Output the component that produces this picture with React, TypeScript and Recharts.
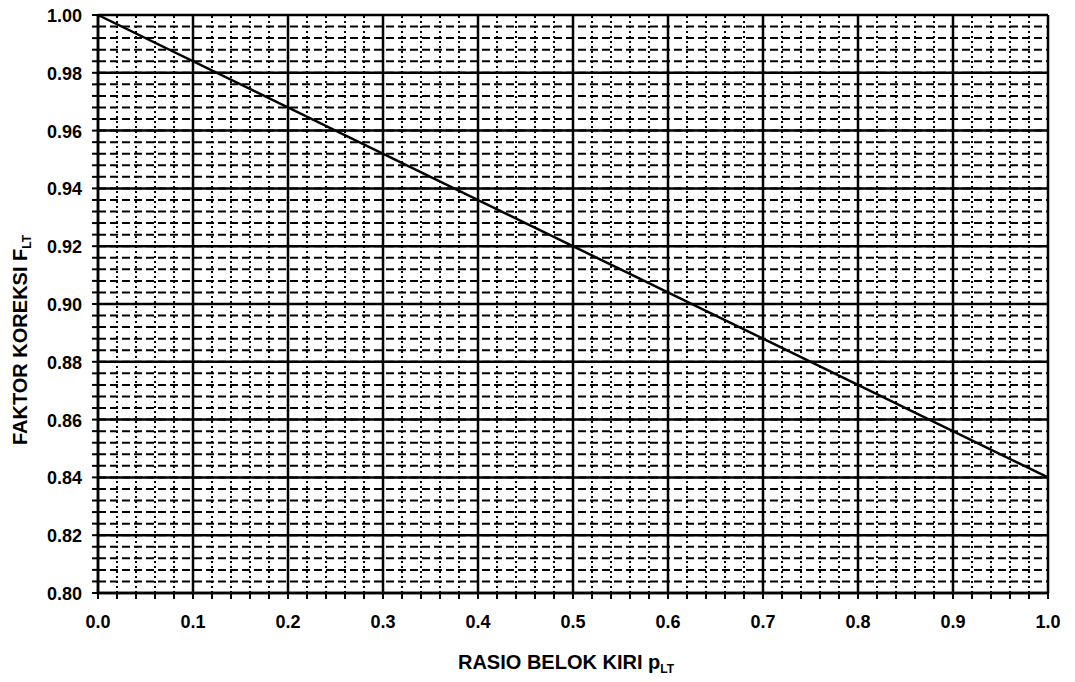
import {
  CartesianGrid,
  Label,
  Line,
  LineChart,
  ReferenceLine,
  XAxis,
  YAxis,
} from 'recharts'

document.body.style.margin = '0'

// correction line F_LT vs left-turn ratio p_LT
const ratio = [0.0, 1.0]
const factor = [1.0, 0.84]

const xMajor = [0, 0.1, 0.2, 0.3, 0.4, 0.5, 0.6, 0.7, 0.8, 0.9, 1.0]
const xLabels = ['0.0', '0.1', '0.2', '0.3', '0.4', '0.5', '0.6', '0.7', '0.8', '0.9', '1.0']
const yMajor = [0.8, 0.82, 0.84, 0.86, 0.88, 0.9, 0.92, 0.94, 0.96, 0.98, 1.0]
const yLabels = ['0.80', '0.82', '0.84', '0.86', '0.88', '0.90', '0.92', '0.94', '0.96', '0.98', '1.00']

// minor grid: every 0.02 on x, every 0.004 on y
const xMinor = Array.from({ length: 51 }, (_, i) => Math.round(i * 2) / 100)
const yMinor = Array.from({ length: 51 }, (_, i) => Math.round(800 + i * 4) / 1000)

const data = ratio.map((r, i) => ({ x: r, y: factor[i] }))

const FONT = '"Liberation Sans", Arial, sans-serif'

function XTick({ x, y, payload }: any) {
  const idx = xMajor.findIndex((v) => Math.abs(v - payload.value) < 1e-6)
  if (idx < 0) return null
  return (
    <text x={x} y={y + 27} textAnchor="middle" fontFamily={FONT} fontWeight="bold" fontSize={18} fill="#000">
      {xLabels[idx]}
    </text>
  )
}

function YTick({ x, y, payload }: any) {
  const idx = yMajor.findIndex((v) => Math.abs(v - payload.value) < 1e-6)
  if (idx < 0) return null
  return (
    <text x={x - 8} y={y + 7} textAnchor="end" fontFamily={FONT} fontWeight="bold" fontSize={18} fill="#000">
      {yLabels[idx]}
    </text>
  )
}

export default function App() {
  return (
    <div style={{ width: 1075, height: 682, background: '#fff' }}>
      <LineChart width={1075} height={682} data={data} margin={{ top: 15, right: 27, left: 0, bottom: 0 }}>
        <CartesianGrid stroke="none" />
        {xMinor.map((v) => (
          <ReferenceLine key={'xm' + v} x={v} stroke="#000" strokeWidth={2} strokeDasharray="2 3" />
        ))}
        {yMinor.map((v) => (
          <ReferenceLine key={'ym' + v} y={v} stroke="#000" strokeWidth={2} strokeDasharray="8 4" />
        ))}
        {xMajor.map((v) => (
          <ReferenceLine key={'xM' + v} x={v} stroke="#000" strokeWidth={2.5} />
        ))}
        {yMajor.map((v) => (
          <ReferenceLine key={'yM' + v} y={v} stroke="#000" strokeWidth={2.5} />
        ))}
        <XAxis
          type="number"
          dataKey="x"
          domain={[0, 1]}
          ticks={xMinor}
          tick={<XTick />}
          interval={0}
          height={89}
          axisLine={{ stroke: '#000', strokeWidth: 2.5 }}
          tickLine={{ stroke: '#000', strokeWidth: 2 }}
          tickSize={6}
        >
          <Label
            content={() => (
              <text x={566} y={669} textAnchor="middle" fontFamily={FONT} fontWeight="bold" fontSize={20} fill="#000">
                RASIO BELOK KIRI p
                <tspan fontSize={12} dy={4}>LT</tspan>
              </text>
            )}
          />
        </XAxis>
        <YAxis
          type="number"
          domain={[0.8, 1.0]}
          ticks={yMinor}
          tick={<YTick />}
          interval={0}
          width={98}
          axisLine={{ stroke: '#000', strokeWidth: 2.5 }}
          tickLine={{ stroke: '#000', strokeWidth: 2 }}
          tickSize={6}
        >
          <Label
            content={() => (
              <text
                x={27}
                y={340}
                transform="rotate(-90 27 340)"
                textAnchor="middle"
                fontFamily={FONT}
                fontWeight="bold"
                fontSize={20}
                fill="#000"
              >
                FAKTOR KOREKSI F
                <tspan fontSize={12} dy={4}>LT</tspan>
              </text>
            )}
          />
        </YAxis>
        <Line
          type="linear"
          dataKey="y"
          stroke="#000"
          strokeWidth={2.5}
          dot={false}
          isAnimationActive={false}
        />
      </LineChart>
    </div>
  )
}
